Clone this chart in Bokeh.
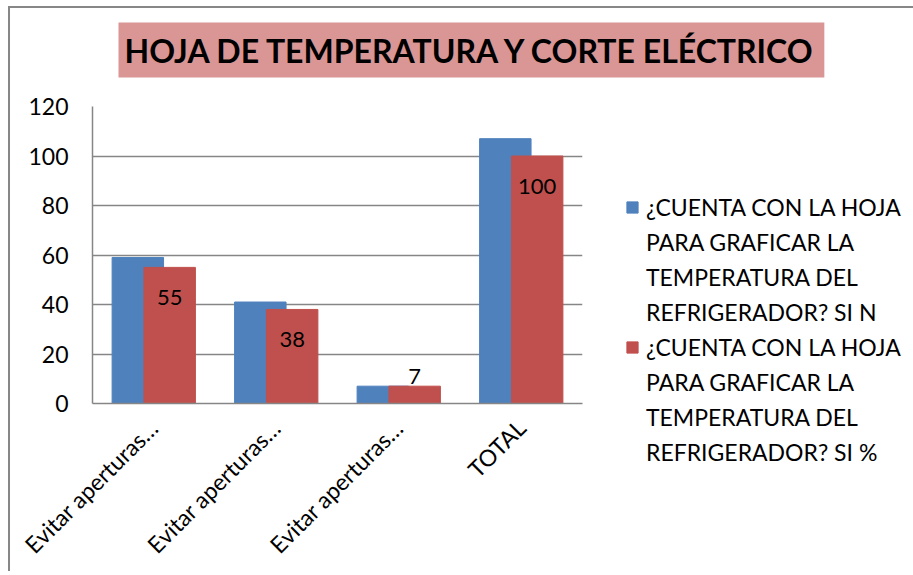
import math
from bokeh.plotting import figure
from bokeh.models import Range1d, FixedTicker, Legend, LegendItem, Title
from bokeh.core.properties import value
from bokeh.embed import file_html
from bokeh.resources import INLINE

# ---- data ----
categories = ["Evitar aperturas…", "Evitar aperturas…", "Evitar aperturas…", "TOTAL"]
si_n = [59, 41, 7, 107]
si_pct = [55, 38, 7, 100]
series_n_lines = ["¿CUENTA CON LA HOJA", "PARA GRAFICAR LA", "TEMPERATURA DEL", "REFRIGERADOR? SI N"]
series_pct_lines = ["¿CUENTA CON LA HOJA", "PARA GRAFICAR LA", "TEMPERATURA DEL", "REFRIGERADOR? SI %"]
y_ticks = [0, 20, 40, 60, 80, 100, 120]
title_text = "HOJA DE TEMPERATURA Y CORTE ELÉCTRICO"

FONT = "Lato"
BLUE = "#4F81BD"
RED = "#C0504D"
GRID = "#868686"
TITLE_BG = "#D99694"

centers = [i + 0.5 for i in range(len(categories))]
x_blue = [c - 0.13 for c in centers]
x_red = [c + 0.13 for c in centers]

p = figure(
    title=None,
    frame_width=490, frame_height=297,
    min_border_left=82, min_border_top=98, min_border_right=325, min_border_bottom=165,
    x_range=Range1d(0, len(categories)), y_range=Range1d(0, 120),
    output_backend="svg", toolbar_location=None,
)
p.styles = {"margin-left": "8px", "margin-top": "6px",
            "border-left": "2px solid #878787", "border-top": "2px solid #878787"}
p.outline_line_color = None
p.background_fill_color = "white"
p.border_fill_color = "white"

r1 = p.vbar(x=x_blue, top=si_n, bottom=0, width=0.42, fill_color=BLUE, line_color=BLUE)
r2 = p.vbar(x=x_red, top=si_pct, bottom=0, width=0.42, fill_color=RED, line_color=RED)
# invisible renderer used for the continuation lines of the wrapped legend labels
r_blank = p.vbar(x=[], top=[], width=0.1, fill_alpha=0, line_alpha=0)

# data labels on red series
offsets = [30 if v > 15 else -10 for v in si_pct]
p.text(x=x_red, y=si_pct, text=[str(v) for v in si_pct], y_offset=offsets,
       text_align="center", text_baseline="middle", text_font=value(FONT),
       text_font_size="22px", text_color="black")

# axes
ya = p.yaxis[0]
ya.ticker = FixedTicker(ticks=y_ticks)
ya.major_tick_out = 0
ya.major_tick_in = 0
ya.minor_tick_out = 0
ya.minor_tick_in = 0
ya.axis_line_color = GRID
ya.axis_line_width = 1.5
ya.major_label_standoff = 24
ya.major_label_text_font = FONT
ya.major_label_text_font_size = "23px"
ya.major_label_text_color = "black"

xa = p.xaxis[0]
xa.ticker = FixedTicker(ticks=centers)
xa.major_label_overrides = {c: lab for c, lab in zip(centers, categories)}
xa.major_label_orientation = math.pi / 4
xa.major_tick_out = 0
xa.major_tick_in = 0
xa.minor_tick_out = 0
xa.minor_tick_in = 0
xa.axis_line_color = GRID
xa.axis_line_width = 1.5
xa.major_label_standoff = 20
xa.major_label_text_font = FONT
xa.major_label_text_font_size = "23px"
xa.major_label_text_color = "black"

p.xgrid.visible = False
p.ygrid.ticker = FixedTicker(ticks=y_ticks)
p.ygrid.grid_line_color = GRID
p.ygrid.grid_line_width = 1.5

# title: an empty spacer panel next to the frame, then the boxed title above it
p.add_layout(Title(text=" ", text_font_size="1px", standoff=15), "above")
p.add_layout(Title(
    text=title_text, align="left", offset=26, standoff=22,
    text_font=FONT, text_font_style="bold", text_font_size="32px", text_color="black",
    background_fill_color=TITLE_BG, padding=(6, 8),
), "above")

items = [LegendItem(label=series_n_lines[0], renderers=[r1])]
items += [LegendItem(label=t, renderers=[r_blank]) for t in series_n_lines[1:]]
items += [LegendItem(label=series_pct_lines[0], renderers=[r2])]
items += [LegendItem(label=t, renderers=[r_blank]) for t in series_pct_lines[1:]]

legend = Legend(
    items=items, location=(43, -66),
    glyph_width=14, glyph_height=14, label_standoff=7, spacing=0,
    label_height=35, padding=0, margin=0,
    label_text_font=FONT, label_text_font_size="23px", label_text_color="black",
    border_line_color=None, background_fill_alpha=0,
)
p.add_layout(legend, "right")

open("out.html", "w").write(file_html(p, INLINE))
